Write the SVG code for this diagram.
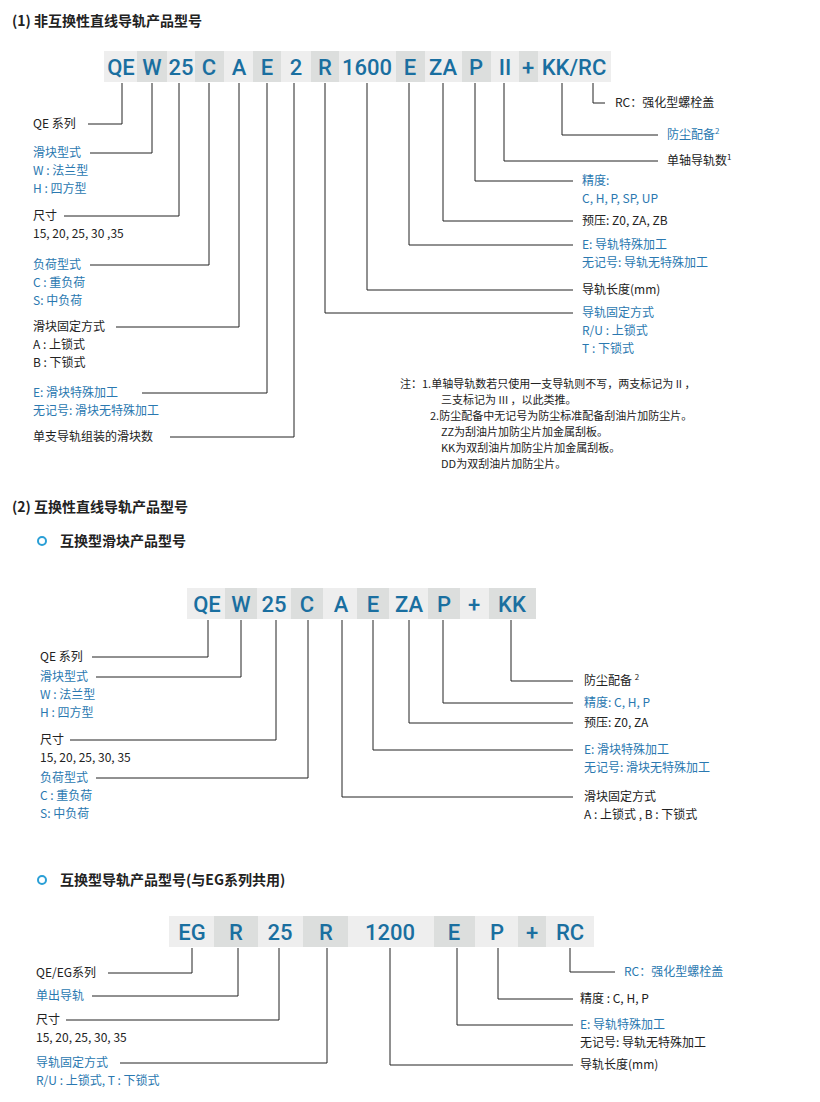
<svg xmlns="http://www.w3.org/2000/svg" width="820" height="1102" viewBox="0 0 820 1102">
<style>
text{font-family:"Noto Sans CJK SC","Noto Sans",sans-serif;font-size:12px;fill:#222}
.b{fill:#2a78b0}
.h{font-size:14px;font-weight:bold;fill:#222}
.c{font-family:Roboto,"Noto Sans",sans-serif;font-size:22px;font-weight:500;fill:#1a6fa0;text-anchor:middle}
.l{fill:#eeeeee}.d{fill:#dcdedd}
.w{fill:none;stroke:#222;stroke-width:1}
.s{font-size:11px}
</style>
<rect width="820" height="1102" fill="#fff"/>
<text class="h" x="12" y="26">(1) 非互换性直线导轨产品型号</text>
<text class="h" x="12" y="512">(2) 互换性直线导轨产品型号</text>
<circle cx="42" cy="541" r="4" fill="none" stroke="#2a9fd6" stroke-width="2"/>
<text class="h" x="60" y="546">互换型滑块产品型号</text>
<circle cx="42" cy="880" r="4" fill="none" stroke="#2a9fd6" stroke-width="2"/>
<text class="h" x="60" y="885">互换型导轨产品型号(与EG系列共用)</text>

<g id="code1">
<rect class="l" x="104" y="51" width="33" height="31"/><rect class="d" x="137" y="51" width="30" height="31"/>
<rect class="l" x="167" y="51" width="28" height="31"/><rect class="d" x="195" y="51" width="29" height="31"/>
<rect class="l" x="224" y="51" width="29" height="31"/><rect class="d" x="253" y="51" width="28" height="31"/>
<rect class="l" x="281" y="51" width="30" height="31"/><rect class="d" x="311" y="51" width="28" height="31"/>
<rect class="l" x="339" y="51" width="57" height="31"/><rect class="d" x="396" y="51" width="29" height="31"/>
<rect class="l" x="425" y="51" width="37" height="31"/><rect class="d" x="462" y="51" width="29" height="31"/>
<rect class="l" x="491" y="51" width="28" height="31"/><rect class="d" x="519" y="51" width="19" height="31"/>
<rect class="l" x="538" y="51" width="73" height="31"/>
<text class="c" x="121" y="75">QE</text><text class="c" x="152" y="75">W</text><text class="c" x="181" y="75">25</text>
<text class="c" x="209" y="75">C</text><text class="c" x="239" y="75">A</text><text class="c" x="267" y="75">E</text>
<text class="c" x="296" y="75">2</text><text class="c" x="325" y="75">R</text><text class="c" x="367" y="75">1600</text>
<text class="c" x="410" y="75">E</text><text class="c" x="443" y="75">ZA</text><text class="c" x="476" y="75">P</text>
<text class="c" x="505" y="75">II</text><text class="c" x="528" y="75">+</text><text class="c" x="574" y="75">KK/RC</text>
</g>
<g id="connectors1">
<path class="w" d="M122 83V124H88M152 83V153H90M179 83V216H64M209 83V265H90M239 83V327H116M267 83V393H142M294 83V437H170"/>
<path class="w" d="M593 83V103H605M562 83V135H658M504 83V161H658M475 83V181H573M443 83V221H573M409 83V245H573M367 83V290H573M325 83V313H573"/>
</g>
<g id="labels1">
<text x="33" y="128">QE 系列</text>
<text class="b" x="33" y="157">滑块型式</text><text class="b" x="33" y="175">W : 法兰型</text><text class="b" x="33" y="193">H : 四方型</text>
<text x="33" y="220">尺寸</text><text x="33" y="238">15, 20, 25, 30 ,35</text>
<text class="b" x="33" y="269">负荷型式</text><text class="b" x="33" y="287">C : 重负荷</text><text class="b" x="33" y="305">S: 中负荷</text>
<text x="33" y="331">滑块固定方式</text><text x="33" y="349">A : 上锁式</text><text x="33" y="367">B : 下锁式</text>
<text class="b" x="33" y="397">E: 滑块特殊加工</text><text class="b" x="33" y="415">无记号: 滑块无特殊加工</text>
<text x="33" y="441">单支导轨组装的滑块数</text>
<text x="615" y="107">RC：强化型螺栓盖</text>
<text class="b" x="667" y="139">防尘配备<tspan font-size="8" dy="-5">2</tspan></text>
<text x="667" y="165">单轴导轨数<tspan font-size="8" dy="-5">1</tspan></text>
<text class="b" x="582" y="185">精度:</text><text class="b" x="582" y="203">C, H, P, SP, UP</text>
<text x="582" y="225">预压: Z0, ZA, ZB</text>
<text class="b" x="582" y="249">E: 导轨特殊加工</text><text class="b" x="582" y="267">无记号: 导轨无特殊加工</text>
<text x="582" y="294">导轨长度(mm)</text>
<text class="b" x="582" y="317">导轨固定方式</text><text class="b" x="582" y="335">R/U : 上锁式</text><text class="b" x="582" y="353">T : 下锁式</text>
<text class="s" x="400" y="388">注：1.单轴导轨数若只使用一支导轨则不写，两支标记为 II ，</text>
<text class="s" x="441" y="404">三支标记为 III ，以此类推。</text>
<text class="s" x="430" y="420">2.防尘配备中无记号为防尘标准配备刮油片加防尘片。</text>
<text class="s" x="441" y="436">ZZ为刮油片加防尘片加金属刮板。</text>
<text class="s" x="441" y="452">KK为双刮油片加防尘片加金属刮板。</text>
<text class="s" x="441" y="468">DD为双刮油片加防尘片。</text>
</g>

<g id="code2">
<rect class="l" x="187" y="588" width="38" height="31"/><rect class="d" x="225" y="588" width="32" height="31"/>
<rect class="l" x="257" y="588" width="34" height="31"/><rect class="d" x="291" y="588" width="32" height="31"/>
<rect class="l" x="323" y="588" width="34" height="31"/><rect class="d" x="357" y="588" width="32" height="31"/>
<rect class="l" x="389" y="588" width="39" height="31"/><rect class="d" x="428" y="588" width="32" height="31"/>
<rect class="l" x="460" y="588" width="29" height="31"/><rect class="d" x="489" y="588" width="47" height="31"/>
<text class="c" x="207" y="612">QE</text><text class="c" x="241" y="612">W</text><text class="c" x="274" y="612">25</text>
<text class="c" x="307" y="612">C</text><text class="c" x="341" y="612">A</text><text class="c" x="373" y="612">E</text>
<text class="c" x="409" y="612">ZA</text><text class="c" x="444" y="612">P</text><text class="c" x="474" y="612">+</text>
<text class="c" x="512" y="612">KK</text>
</g>
<g id="connectors2">
<path class="w" d="M208 620V657H92M241 620V677H96M276 620V740H70M308 620V778H96"/>
<path class="w" d="M342 620V797H573M373 620V750H573M409 620V723H573M443 620V703H573M511 620V681H573"/>
</g>
<g id="labels2">
<text x="40" y="661">QE 系列</text>
<text class="b" x="40" y="681">滑块型式</text><text class="b" x="40" y="699">W : 法兰型</text><text class="b" x="40" y="717">H : 四方型</text>
<text x="40" y="744">尺寸</text><text x="40" y="762">15, 20, 25, 30, 35</text>
<text class="b" x="40" y="782">负荷型式</text><text class="b" x="40" y="800">C : 重负荷</text><text class="b" x="40" y="818">S: 中负荷</text>
<text x="584" y="685">防尘配备 <tspan font-size="8" dy="-5">2</tspan></text>
<text class="b" x="584" y="707">精度: C, H, P</text>
<text x="584" y="727">预压:  Z0, ZA</text>
<text class="b" x="584" y="754">E: 滑块特殊加工</text><text class="b" x="584" y="772">无记号: 滑块无特殊加工</text>
<text x="584" y="801">滑块固定方式</text><text x="584" y="819">A : 上锁式 ,     B : 下锁式</text>
</g>

<g id="code3">
<rect class="l" x="169" y="916" width="45" height="31"/><rect class="d" x="214" y="916" width="44" height="31"/>
<rect class="l" x="258" y="916" width="45" height="31"/><rect class="d" x="303" y="916" width="45" height="31"/>
<rect class="l" x="348" y="916" width="86" height="31"/><rect class="d" x="434" y="916" width="41" height="31"/>
<rect class="l" x="475" y="916" width="43" height="31"/><rect class="d" x="518" y="916" width="28" height="31"/>
<rect class="l" x="546" y="916" width="48" height="31"/>
<text class="c" x="192" y="940">EG</text><text class="c" x="236" y="940">R</text><text class="c" x="280" y="940">25</text>
<text class="c" x="326" y="940">R</text><text class="c" x="390" y="940">1200</text><text class="c" x="454" y="940">E</text>
<text class="c" x="497" y="940">P</text><text class="c" x="532" y="940">+</text><text class="c" x="570" y="940">RC</text>
</g>
<g id="connectors3">
<path class="w" d="M192 948V973H108M238 948V996H92M279 948V1020H66M327 948V1063H120"/>
<path class="w" d="M390 948V1065H573M457 948V1025H573M498 948V999H573M570 948V972H615"/>
</g>
<g id="labels3">
<text x="36" y="977">QE/EG系列</text>
<text class="b" x="36" y="1000">单出导轨</text>
<text x="36" y="1024">尺寸</text><text x="36" y="1042">15, 20, 25, 30, 35</text>
<text class="b" x="36" y="1067">导轨固定方式</text><text class="b" x="36" y="1085">R/U : 上锁式,   T : 下锁式</text>
<text class="b" x="624" y="976">RC：强化型螺栓盖</text>
<text x="580" y="1003">精度 : C, H, P</text>
<text class="b" x="580" y="1029">E: 导轨特殊加工</text><text x="580" y="1047">无记号: 导轨无特殊加工</text>
<text x="580" y="1069">导轨长度(mm)</text>
</g>
</svg>
